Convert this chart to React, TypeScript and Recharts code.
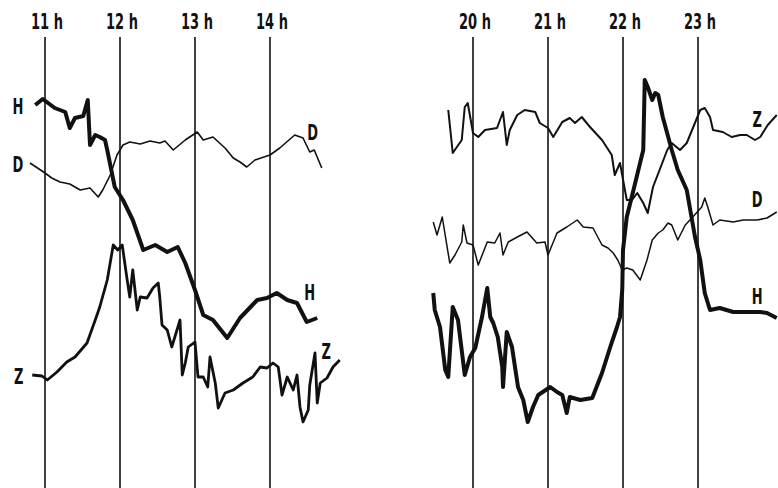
import { LineChart, Line, XAxis, YAxis, ReferenceLine, ReferenceDot } from 'recharts';

// time in hours, trace value in arbitrary chart units (up = larger)
const morningHours = [11, 12, 13, 14];
const eveningHours = [20, 21, 22, 23];

const morningH: [number, number][] = [
  [10.87, 38.3], [10.97, 38.9], [11.13, 38.0], [11.27, 37.6], [11.33, 36.0], [11.4, 37.0],
  [11.51, 37.2], [11.57, 38.8], [11.6, 34.3], [11.67, 35.3], [11.73, 35.1], [11.8, 34.8],
  [11.83, 33.8], [11.93, 30.1], [12.04, 28.8], [12.17, 26.8], [12.31, 23.8], [12.47, 24.3],
  [12.63, 23.6], [12.77, 24.1], [12.87, 22.5], [13.0, 19.8], [13.11, 17.3], [13.24, 16.8],
  [13.43, 15.0], [13.6, 17.0], [13.83, 18.8], [13.96, 19.0], [14.09, 19.5], [14.23, 18.8],
  [14.36, 18.5], [14.49, 16.6], [14.63, 17.0],
];

const morningD: [number, number][] = [
  [10.8, 32.5], [11.0, 31.5], [11.09, 31.0], [11.2, 30.6], [11.33, 30.4], [11.47, 29.8],
  [11.6, 30.0], [11.71, 29.1], [11.77, 29.8], [11.87, 31.3], [11.96, 33.3], [12.04, 34.3],
  [12.13, 34.6], [12.27, 34.4], [12.4, 34.7], [12.53, 34.5], [12.6, 34.7], [12.71, 33.8],
  [12.87, 34.8], [13.03, 35.6], [13.11, 34.8], [13.24, 35.1], [13.4, 34.0], [13.51, 33.0],
  [13.6, 32.6], [13.69, 32.1], [13.8, 32.8], [14.0, 33.3], [14.13, 34.0], [14.33, 35.3],
  [14.44, 35.0], [14.53, 33.6], [14.59, 33.8], [14.69, 32.0],
];

const morningZ: [number, number][] = [
  [10.83, 11.3], [10.96, 11.2], [11.03, 10.8], [11.16, 11.6], [11.29, 12.6], [11.4, 13.1],
  [11.56, 14.5], [11.67, 16.8], [11.73, 18.1], [11.83, 20.8], [11.91, 24.3], [11.97, 23.8],
  [12.03, 24.3], [12.09, 21.1], [12.13, 19.1], [12.17, 21.8], [12.23, 17.8], [12.27, 19.1],
  [12.36, 19.0], [12.44, 20.0], [12.51, 20.5], [12.53, 19.1], [12.56, 16.3], [12.63, 15.8],
  [12.69, 14.1], [12.76, 15.8], [12.8, 16.8], [12.83, 11.3], [12.87, 12.5], [12.91, 14.1],
  [13.0, 14.6], [13.04, 11.1], [13.11, 11.1], [13.17, 10.1], [13.2, 13.1], [13.27, 10.5],
  [13.31, 8.0], [13.4, 9.5], [13.51, 9.8], [13.64, 10.5], [13.77, 11.1], [13.87, 12.1],
  [13.96, 12.0], [14.04, 12.5], [14.11, 12.1], [14.16, 9.3], [14.23, 11.1], [14.31, 9.8],
  [14.36, 11.3], [14.4, 8.1], [14.44, 6.6], [14.51, 7.8], [14.53, 10.3], [14.6, 13.5],
  [14.63, 8.5], [14.67, 10.5], [14.76, 11.0], [14.84, 12.1], [14.93, 12.8],
];

const eveningZ: [number, number][] = [
  [19.67, 37.8], [19.73, 33.5], [19.85, 34.8], [19.89, 38.1], [19.93, 38.5], [20.0, 35.5],
  [20.07, 35.1], [20.16, 35.8], [20.32, 36.0], [20.4, 37.6], [20.45, 34.3], [20.49, 35.8],
  [20.59, 37.3], [20.69, 37.8], [20.83, 37.6], [20.89, 36.5], [21.0, 36.0], [21.07, 35.1],
  [21.19, 36.6], [21.29, 37.0], [21.36, 36.5], [21.45, 37.1], [21.56, 36.1], [21.72, 34.8],
  [21.85, 33.3], [21.89, 31.3], [21.96, 32.5], [22.05, 28.8], [22.12, 28.8], [22.19, 29.5],
  [22.27, 28.5], [22.33, 27.5], [22.4, 30.1], [22.59, 33.8], [22.65, 34.5], [22.76, 33.8],
  [22.85, 34.5], [23.03, 37.8], [23.09, 38.0], [23.16, 37.1], [23.2, 35.8], [23.33, 35.6],
  [23.45, 35.1], [23.56, 35.3], [23.65, 35.3], [23.76, 34.8], [23.83, 35.1], [23.93, 36.3],
  [24.05, 37.3],
];

const eveningD: [number, number][] = [
  [19.47, 26.6], [19.52, 25.3], [19.59, 27.1], [19.69, 22.5], [19.76, 23.3], [19.85, 24.6],
  [19.87, 26.3], [19.92, 24.5], [20.0, 24.3], [20.07, 22.3], [20.19, 24.6], [20.29, 24.5],
  [20.36, 25.5], [20.4, 23.3], [20.47, 24.6], [20.59, 25.1], [20.72, 25.6], [20.85, 24.5],
  [20.96, 24.6], [21.0, 23.3], [21.12, 25.5], [21.25, 26.1], [21.39, 26.8], [21.47, 26.1],
  [21.6, 26.0], [21.72, 24.3], [21.8, 24.0], [21.87, 23.5], [21.93, 22.8], [21.99, 21.8],
  [22.05, 22.0], [22.13, 21.8], [22.23, 20.8], [22.32, 22.8], [22.39, 24.8], [22.47, 25.5],
  [22.53, 25.8], [22.6, 26.5], [22.65, 26.3], [22.73, 24.8], [22.83, 26.3], [22.93, 27.1],
  [23.05, 28.1], [23.09, 29.0], [23.13, 28.1], [23.2, 26.3], [23.29, 26.8], [23.47, 26.6],
  [23.6, 26.8], [23.79, 26.8], [23.92, 27.0], [24.05, 27.6],
];

const eveningH: [number, number][] = [
  [19.47, 19.5], [19.49, 17.8], [19.56, 16.1], [19.63, 11.8], [19.67, 11.1], [19.73, 18.1],
  [19.8, 16.8], [19.89, 11.3], [19.96, 13.1], [20.03, 14.0], [20.12, 17.1], [20.19, 20.0],
  [20.23, 17.1], [20.27, 16.5], [20.33, 15.1], [20.39, 12.1], [20.4, 10.1], [20.45, 15.6],
  [20.52, 14.1], [20.6, 10.1], [20.67, 8.8], [20.73, 6.6], [20.8, 8.1], [20.87, 9.3],
  [21.03, 10.1], [21.12, 9.6], [21.19, 9.3], [21.25, 7.5], [21.29, 9.1], [21.43, 8.8],
  [21.59, 9.0], [21.72, 11.5], [21.83, 14.1], [21.92, 16.1], [21.96, 17.1], [21.99, 19.8],
  [22.0, 23.8], [22.05, 27.1], [22.13, 29.5], [22.27, 33.8], [22.29, 40.8], [22.33, 40.1],
  [22.39, 38.8], [22.43, 39.5], [22.47, 39.3], [22.53, 37.1], [22.65, 33.8], [22.73, 31.8],
  [22.85, 29.8], [22.96, 25.1], [23.03, 22.8], [23.09, 19.5], [23.16, 17.8], [23.29, 18.0],
  [23.47, 17.6], [23.65, 17.6], [23.83, 17.6], [23.92, 17.5], [24.05, 17.0],
];

type Tag = { text: string; t: number; v: number };
const morningTags: Tag[] = [
  { text: 'H', t: 10.64, v: 38.1 }, { text: 'D', t: 10.64, v: 32.3 }, { text: 'Z', t: 10.65, v: 11.1 },
  { text: 'D', t: 14.57, v: 35.5 }, { text: 'H', t: 14.53, v: 19.5 }, { text: 'Z', t: 14.75, v: 13.6 },
];
const eveningTags: Tag[] = [
  { text: 'Z', t: 23.79, v: 36.8 }, { text: 'D', t: 23.79, v: 28.8 }, { text: 'H', t: 23.79, v: 19.1 },
];

const font = "'DejaVu Sans Condensed', 'DejaVu Sans', sans-serif";
const toRows = (pts: [number, number][]) => pts.map(([t, v]) => ({ t, v }));

// tall, narrow lettering like the stencilled labels of the original
const Narrow = ({ x, y, children }: { x: number; y: number; children: string }) => (
  <text transform={`translate(${x},${y}) scale(0.85,1.2)`} textAnchor="middle" dominantBaseline="central"
    fontFamily={font} fontWeight="bold" fontSize={17} fill="#111">
    {children}
  </text>
);

const HourTick = (props: any) => <Narrow x={props.x + 2} y={22}>{`${props.payload.value} h`}</Narrow>;

interface PanelProps {
  left: number;
  width: number;
  domain: [number, number];
  hours: number[];
  traces: { pts: [number, number][]; width: number }[];
  tags: Tag[];
}

function Panel({ left, width, domain, hours, traces, tags }: PanelProps) {
  return (
    <div style={{ position: 'absolute', left, top: 0 }}>
      <LineChart width={width} height={488} margin={{ top: 0, right: 0, bottom: 0, left: 0 }}>
        <XAxis xAxisId={0} type="number" dataKey="t" domain={domain} allowDataOverflow orientation="top"
          height={37} ticks={hours} tick={<HourTick />} axisLine={false} tickLine={false} />
        <YAxis type="number" domain={[0, 45.1]} hide allowDataOverflow />
        {hours.map(h => (
          <ReferenceLine key={h} x={h} stroke="#111" strokeWidth={1.6} />
        ))}
        {traces.map((tr, i) => (
          <Line key={i} data={toRows(tr.pts)} dataKey="v" type="linear" stroke="#111"
            strokeWidth={tr.width} dot={false} strokeLinejoin="round" isAnimationActive={false} />
        ))}
        {tags.map((g, i) => (
          <ReferenceDot key={'g' + i} x={g.t} y={g.v} r={0}
            shape={(p: any) => <Narrow x={p.cx} y={p.cy}>{g.text}</Narrow>} />
        ))}
      </LineChart>
    </div>
  );
}

export default function App() {
  return (
    <div style={{ position: 'absolute', left: 0, top: 0, width: 778, height: 488, background: '#fff', overflow: 'hidden' }}>
      <Panel left={0} width={390} domain={[10.4, 15.6]} hours={morningHours} tags={morningTags}
        traces={[{ pts: morningD, width: 1.6 }, { pts: morningZ, width: 2.8 }, { pts: morningH, width: 4 }]} />
      <Panel left={398} width={380} domain={[19, 24 + 1 / 15]} hours={eveningHours} tags={eveningTags}
        traces={[{ pts: eveningZ, width: 2 }, { pts: eveningD, width: 1.5 }, { pts: eveningH, width: 4 }]} />
    </div>
  );
}
